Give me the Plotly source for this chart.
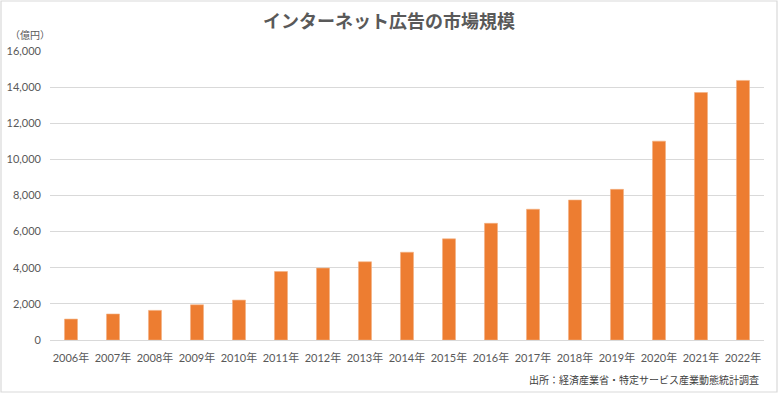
import plotly.graph_objects as go

years = ["2006年", "2007年", "2008年", "2009年", "2010年", "2011年", "2012年", "2013年",
         "2014年", "2015年", "2016年", "2017年", "2018年", "2019年", "2020年", "2021年", "2022年"]
values = [1160, 1440, 1640, 1950, 2210, 3790, 3980, 4330, 4860, 5600, 6460, 7240, 7750,
          8340, 11010, 13700, 14370]
y_ticks = [0, 2000, 4000, 6000, 8000, 10000, 12000, 14000, 16000]
y_tick_text = ["0", "2,000", "4,000", "6,000", "8,000", "10,000", "12,000", "14,000", "16,000"]

W, H = 778, 393
L, R, T, B = 50, 14, 51, 53
pw, ph = W - L - R, H - T - B

def px(x):
    return (x - L) / pw

def py(y):
    return (H - B - y) / ph

FONT = "Lato, 'Noto Sans CJK JP', sans-serif"
GRAY = "#595959"

fig = go.Figure(go.Bar(
    x=years, y=values,
    marker=dict(color="#ED7D31", line=dict(color="#F4B183", width=0.6)),
    width=0.31,
))

fig.update_layout(
    width=W, height=H,
    margin=dict(l=L, r=R, t=T, b=B, autoexpand=False),
    paper_bgcolor="white", plot_bgcolor="white",
    showlegend=False,
    title=dict(text="<b>インターネット広告の市場規模</b>", x=0.5, xanchor="center",
               y=1 - 22 / H, yanchor="middle", yref="container",
               font=dict(family="'Noto Sans CJK JP', sans-serif", size=18, color=GRAY)),
    xaxis=dict(showgrid=False, showline=True, linecolor="#D9D9D9", linewidth=1,
               ticks="", ticklabelstandoff=8, automargin=False,
               tickfont=dict(family=FONT, size=11, color=GRAY), fixedrange=True),
    yaxis=dict(range=[0, 16000], tickvals=y_ticks, ticktext=y_tick_text,
               showgrid=True, gridcolor="#D9D9D9", gridwidth=1, zeroline=False,
               ticks="", ticklen=0, ticklabelstandoff=8, automargin=False,
               tickfont=dict(family=FONT, size=11, color=GRAY),
               fixedrange=True),
    font=dict(family=FONT, color=GRAY),
    shapes=[dict(type="rect", xref="paper", yref="paper",
                 x0=px(1), x1=px(777), y0=py(392), y1=py(1),
                 line=dict(color="#D9D9D9", width=1.2), fillcolor="rgba(0,0,0,0)", layer="below")],
    annotations=[
        dict(text="（億円）", xref="paper", yref="paper", x=px(8), y=py(34),
             xanchor="left", yanchor="middle", showarrow=False,
             font=dict(family="'Noto Sans CJK JP', sans-serif", size=10, color=GRAY)),
        dict(text="出所：経済産業省・特定サービス産業動態統計調査", xref="paper", yref="paper",
             x=px(761), y=py(380), xanchor="right", yanchor="middle", showarrow=False,
             font=dict(family="'Noto Sans CJK JP', sans-serif", size=10, color="#404040")),
    ],
)

fig.write_html("out.html", config={"displayModeBar": False},
               post_script="document.body.style.margin='0';document.body.style.padding='0';document.body.style.overflow='hidden';")
